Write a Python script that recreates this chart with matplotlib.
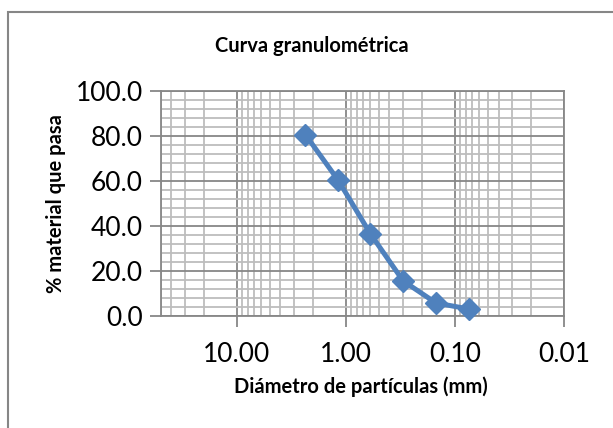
import numpy as np
import matplotlib.pyplot as plt
from matplotlib.ticker import LogLocator, FixedLocator, MultipleLocator, NullFormatter
from matplotlib.patches import Rectangle

# sieve openings (mm) and percent passing
diametros = [2.36, 1.18, 0.60, 0.30, 0.15, 0.075]
pasa = [80.6, 60.3, 36.6, 15.6, 5.8, 3.1]
xticks = [10, 1, 0.1, 0.01]
xtick_labels = ["10.00", "1.00", "0.10", "0.01"]
yticks = [0, 20, 40, 60, 80, 100]

W, H = 613, 428
plt.rcParams['font.family'] = ['Lato', 'DejaVu Sans']

fig = plt.figure(figsize=(W / 100, H / 100), dpi=100)

# chart border (Excel style)
fig.patches.append(Rectangle((8 / W, -0.1), 1.2, 1 - 12 / H + 0.1, transform=fig.transFigure,
                             fill=False, edgecolor='#868686', linewidth=1.5))

left, right, top, bottom = 160.7, 564.3, 91, 316
ax = fig.add_axes([left / W, 1 - bottom / H, (right - left) / W, (bottom - top) / H])

ax.set_xscale('log')
ax.set_xlim(50, 0.01)
ax.set_ylim(0, 100)

ax.xaxis.set_major_locator(FixedLocator(xticks))
ax.set_xticklabels(xtick_labels)
ax.xaxis.set_minor_locator(LogLocator(base=10, subs=np.arange(2, 10)))
ax.xaxis.set_minor_formatter(NullFormatter())
ax.yaxis.set_major_locator(FixedLocator(yticks))
ax.set_yticklabels([f"{v:.1f}" for v in yticks])
ax.yaxis.set_minor_locator(MultipleLocator(4))

ax.grid(True, which='major', color='#878787', linewidth=1.3)
ax.grid(True, which='minor', color='#bdbdbd', linewidth=1.3)
ax.set_axisbelow(True)

for s in ax.spines.values():
    s.set_color('#878787')
    s.set_linewidth(1.3)

ax.tick_params(axis='both', which='major', length=8, width=1.3, color='#878787',
               labelsize=19, pad=5)
ax.tick_params(axis='x', which='major', pad=11)
ax.tick_params(which='minor', length=0)

ax.plot(diametros, pasa, color='#4F81BD', linewidth=3.6, marker='D', markersize=11,
        markeredgecolor='#4F81BD', markerfacecolor='#4F81BD', zorder=3, clip_on=False)

fig.text(312 / W, 1 - 45.5 / H, "Curva granulométrica", ha='center', va='center',
         fontsize=14.5, fontweight='bold')
fig.text(361 / W, 1 - 387 / H, "Diámetro de partículas (mm)", ha='center', va='center',
         fontsize=14.5, fontweight='bold')
fig.text(56.5 / W, 1 - 204 / H, "% material que pasa", ha='center', va='center',
         fontsize=14.5, fontweight='bold', rotation=90)

fig.savefig("out.png", dpi=100)
